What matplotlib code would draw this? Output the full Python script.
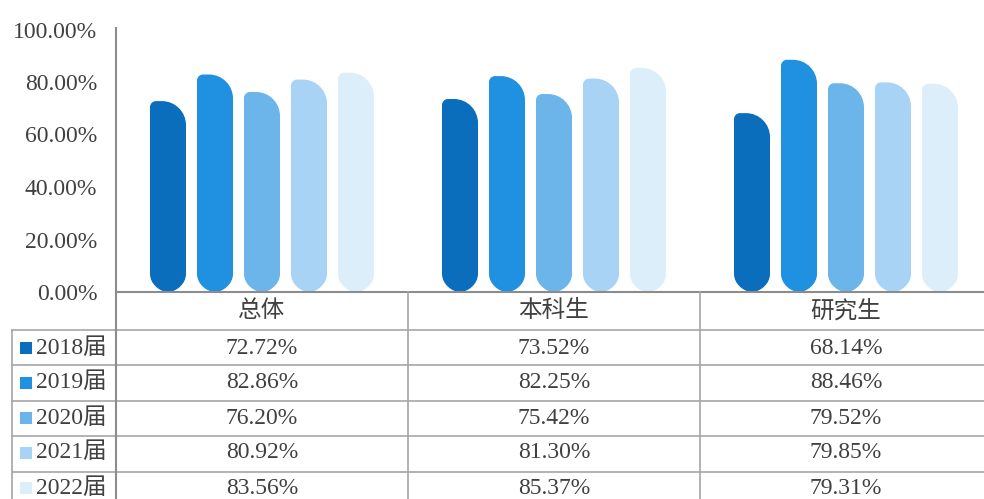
import matplotlib
matplotlib.use("Agg")
import matplotlib.pyplot as plt
from matplotlib.path import Path
from matplotlib.patches import PathPatch, Rectangle
from matplotlib.lines import Line2D
import matplotlib.transforms as mtransforms

plt.rcParams['font.family'] = ['Liberation Serif', 'Noto Sans CJK SC']

# data
categories = ['总体', '本科生', '研究生']
years = ['2018届', '2019届', '2020届', '2021届', '2022届']
rates = [
    [72.72, 73.52, 68.14],
    [82.86, 82.25, 88.46],
    [76.20, 75.42, 79.52],
    [80.92, 81.30, 79.85],
    [83.56, 85.37, 79.31],
]
colors = ['#0a6ebd', '#2090e0', '#6cb5ea', '#a8d3f4', '#ddeefb']
yticks = [0, 20, 40, 60, 80, 100]

W, H = 984, 499
fig = plt.figure(figsize=(W / 100, H / 100), dpi=100)

def fx(px):
    return px / W

def fy(py):
    return 1 - py / H

# plot area (right column runs a bit past the edge)
x0, x1 = 116, 992
ybase, ytop = 292, 29.5
ax = fig.add_axes([fx(x0), fy(ybase), fx(x1 - x0), fy(ytop) - fy(ybase)])
ax.set_xlim(-0.5, 2.5)
ax.set_ylim(0, 100)
for s in ax.spines.values():
    s.set_visible(False)
ax.set_xticks([])
ax.set_yticks(yticks)
ax.set_yticklabels(['%.2f%%' % v for v in yticks])
ax.tick_params(axis='y', length=0, pad=13.5, labelsize=17, labelcolor='#404040')

# pixel -> data scale factors
ppx = (x1 - x0) / 3.0
ppy = (ybase - ytop) / 100.0

def bar_path(xc, h, wpx=36, rtr=24, rtl=6):
    w = wpx / ppx
    l, r = xc - w / 2, xc + w / 2
    rb_x, rb_y = w / 2, (wpx / 2) / ppy
    tr_x, tr_y = rtr / ppx, rtr / ppy
    tl_x, tl_y = rtl / ppx, rtl / ppy
    k = 0.5523
    verts = [
        (l, rb_y),
        (l, h - tl_y),
        (l, h - tl_y + k * tl_y), (l + tl_x - k * tl_x, h), (l + tl_x, h),
        (r - tr_x, h),
        (r - tr_x + k * tr_x, h), (r, h - tr_y + k * tr_y), (r, h - tr_y),
        (r, rb_y),
        (r, rb_y - k * rb_y), (xc + rb_x - k * rb_x, 0), (xc, 0),
        (xc - rb_x + k * rb_x, 0), (l, rb_y - k * rb_y), (l, rb_y),
        (l, rb_y),
    ]
    codes = [Path.MOVETO, Path.LINETO,
             Path.CURVE4, Path.CURVE4, Path.CURVE4,
             Path.LINETO,
             Path.CURVE4, Path.CURVE4, Path.CURVE4,
             Path.LINETO,
             Path.CURVE4, Path.CURVE4, Path.CURVE4,
             Path.CURVE4, Path.CURVE4, Path.CURVE4,
             Path.CLOSEPOLY]
    return Path(verts, codes)

step = 47 / ppx
for i, series in enumerate(rates):
    for j, v in enumerate(series):
        xc = j + (i - 2) * step
        ax.add_patch(PathPatch(bar_path(xc, v), facecolor=colors[i],
                               edgecolor='none'))

# table grid
grid = '#a6a6a6'
def hline(y, xa, xb, c=grid, lw=1.2):
    fig.add_artist(Line2D([fx(xa), fx(xb)], [fy(y), fy(y)], color=c, lw=lw))

def vline(x, ya, yb, c=grid, lw=1.2):
    fig.add_artist(Line2D([fx(x), fx(x)], [fy(ya), fy(yb)], color=c, lw=lw))

row_lines = [330, 365, 401, 436, 472]
hline(ybase, x0, W, c='#8c8c8c', lw=1.5)
for y in row_lines:
    hline(y, 12, W)
vline(x0, 28, H, c='#8c8c8c', lw=1.5)
vline(12, 330, H)
for j in range(1, 3):
    xb = ax.transData.transform((j - 0.5, 0))[0]
    vline(xb, ybase, H)

# header and cells
blend = mtransforms.blended_transform_factory(ax.transData, fig.transFigure)
tc = '#404040'
for j, c in enumerate(categories):
    fig.text(j, fy(311), c, transform=blend, ha='center', va='center',
             fontsize=17, color=tc)

row_mid = [348, 383, 418, 453, 488]
for i, (yr, series) in enumerate(zip(years, rates)):
    ym = row_mid[i]
    fig.add_artist(Rectangle((fx(20), fy(ym + 6)), fx(12), fy(ym - 6) - fy(ym + 6),
                             facecolor=colors[i], edgecolor='none'))
    fig.text(fx(36), fy(ym), yr, ha='left', va='center', fontsize=17, color=tc)
    for j, v in enumerate(series):
        fig.text(j, fy(ym), '%.2f%%' % v, transform=blend, ha='center',
                 va='center', fontsize=17, color=tc)

fig.savefig('out.png', dpi=100)
